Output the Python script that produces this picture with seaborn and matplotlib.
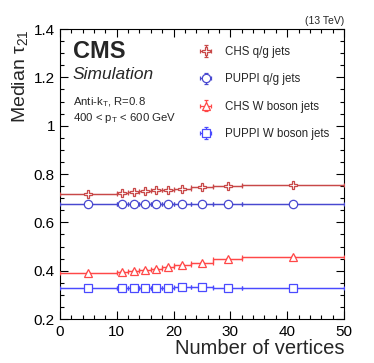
import numpy as np
import matplotlib
matplotlib.use("Agg")
import matplotlib.pyplot as plt
from matplotlib.ticker import MultipleLocator, FuncFormatter
import seaborn as sns

# bin edges in number of vertices
edges = [0, 10, 12, 14, 16, 18, 20, 23, 27, 32, 50]

chs_qg = [0.717, 0.720, 0.724, 0.728, 0.732, 0.736, 0.740, 0.745, 0.752, 0.756]
puppi_qg = [0.677, 0.677, 0.677, 0.677, 0.677, 0.677, 0.677, 0.677, 0.677, 0.677]
chs_w = [0.389, 0.393, 0.397, 0.403, 0.408, 0.414, 0.423, 0.433, 0.447, 0.455]
puppi_w = [0.327, 0.329, 0.329, 0.329, 0.330, 0.330, 0.331, 0.331, 0.330, 0.329]

labels = ["CHS q/g jets", "PUPPI q/g jets", "CHS W boson jets", "PUPPI W boson jets"]
colors = ["#c84848", "#4848d0", "#ff4848", "#4a4aff"]
markers = ["P", "o", "^", "s"]

sns.set_style("ticks")
plt.rcParams['font.family'] = ['Liberation Sans', 'DejaVu Sans']
plt.rcParams['mathtext.fontset'] = 'custom'
plt.rcParams['mathtext.rm'] = 'Liberation Sans'
plt.rcParams['mathtext.it'] = 'Liberation Sans:italic'
plt.rcParams['axes.edgecolor'] = 'black'
plt.rcParams['xtick.color'] = 'black'
plt.rcParams['ytick.color'] = 'black'

fig = plt.figure(figsize=(3.74, 3.63), dpi=100)
ax = fig.add_axes([0.16, 0.121, 0.76, 0.799])

edges_arr = np.array(edges)
centers = (edges_arr[1:] + edges_arr[:-1]) / 2
half_w = (edges_arr[1:] - edges_arr[:-1]) / 2

handles = []
for vals, lab, col, mk in zip([chs_qg, puppi_qg, chs_w, puppi_w], labels, colors, markers):
    vals = np.array(vals)
    sns.lineplot(x=edges_arr, y=np.append(vals, vals[-1]), drawstyle='steps-post',
                 color=col, lw=0.9, ax=ax, legend=False)
    h = ax.errorbar(centers, vals, xerr=half_w, yerr=0.004, fmt=mk, color=col,
                    mfc='white', mec=col, ms=6, mew=0.9, elinewidth=0.9,
                    capsize=1.5, label=lab, zorder=3)
    handles.append(h)

ax.set_xlim(0, 50)
ax.set_ylim(0.2, 1.4)
ax.xaxis.set_major_locator(MultipleLocator(10))
ax.xaxis.set_minor_locator(MultipleLocator(2))
ax.yaxis.set_major_locator(MultipleLocator(0.2))
ax.yaxis.set_minor_locator(MultipleLocator(0.05))
ax.yaxis.set_major_formatter(FuncFormatter(lambda v, p: '%g' % round(v, 2)))
ax.tick_params(which='both', direction='in', top=True, right=True, labelsize=11, width=0.8)
ax.tick_params(which='major', length=6)
ax.tick_params(which='minor', length=3)
ax.tick_params(axis='x', pad=4)

ax.set_xlabel("Number of vertices", fontsize=14.5, loc='right', labelpad=0)
ax.set_ylabel("Median τ$_{21}$", fontsize=14, loc='top', labelpad=3)

ax.text(1.0, 1.012, "(13 TeV)", transform=ax.transAxes, ha='right', va='bottom', fontsize=7.5)
ax.text(0.045, 0.90, "CMS", transform=ax.transAxes, fontsize=17, fontweight='bold', va='baseline')
ax.text(0.045, 0.828, "Simulation", transform=ax.transAxes, fontsize=12.5, style='italic', va='baseline')
ax.text(0.045, 0.736, "Anti-k$_\\mathrm{T}$, R=0.8", transform=ax.transAxes, fontsize=8.2, va='baseline')
ax.text(0.045, 0.684, "400 < p$_\\mathrm{T}$ < 600 GeV", transform=ax.transAxes, fontsize=8.2, va='baseline')

ax.legend(handles=handles, labels=labels, loc='upper left', bbox_to_anchor=(0.516, 0.873),
          bbox_transform=fig.transFigure, borderaxespad=0, borderpad=0,
          frameon=False, fontsize=8.3, handlelength=2.2, labelspacing=1.33, handletextpad=0.6)

fig.savefig("out.png", dpi=100)
